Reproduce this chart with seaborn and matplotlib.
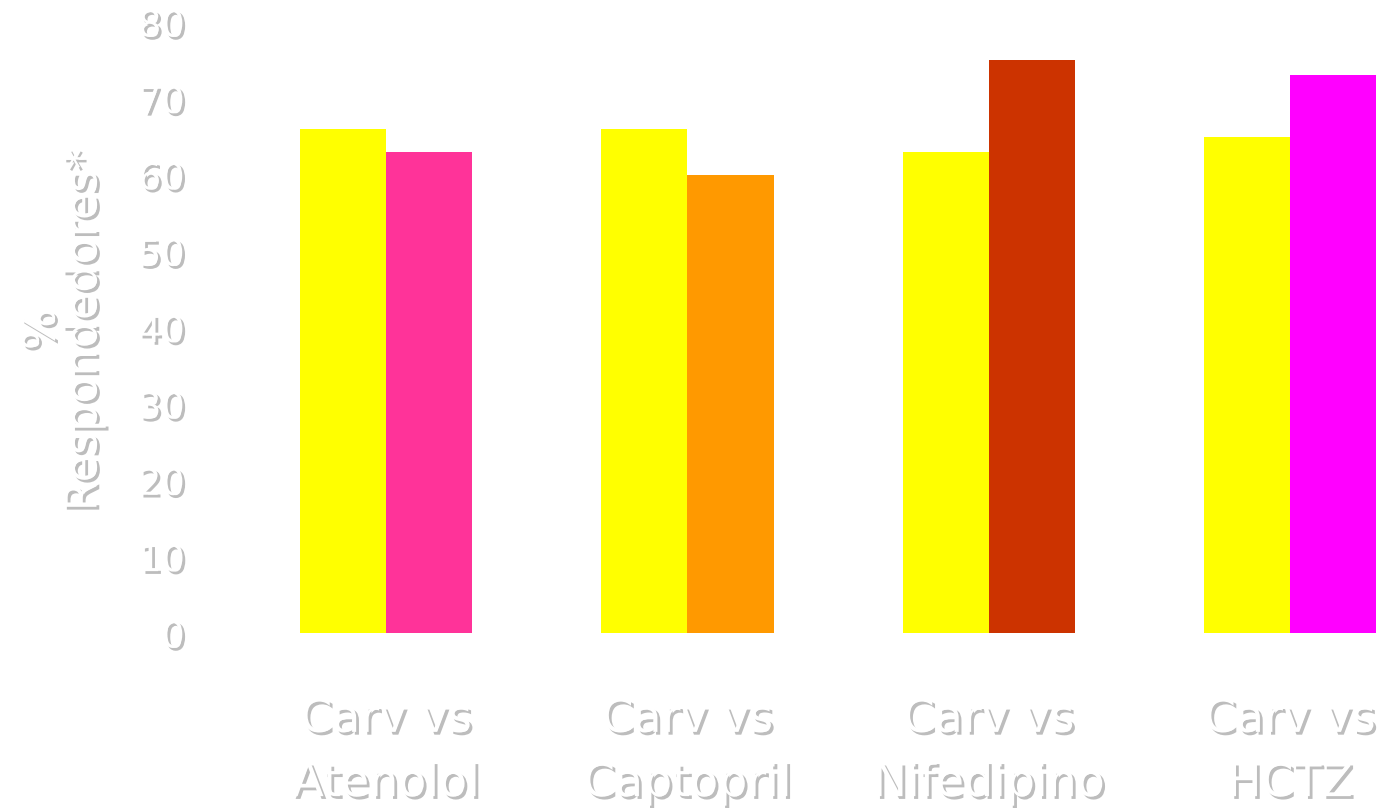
import matplotlib
matplotlib.use("Agg")
import matplotlib.pyplot as plt
import matplotlib.patheffects as pe
import seaborn as sns
import pandas as pd

categories = ["Carv vs\nAtenolol", "Carv vs\nCaptopril", "Carv vs\nNifedipino", "Carv vs\nHCTZ"]
carvedilol = [66, 66, 63, 65]
comparador = [63, 60, 75, 73]
carv_color = "#FFFF00"
comp_colors = ["#FF3399", "#FF9900", "#CC3300", "#FF00FF"]
yticks = [0, 10, 20, 30, 40, 50, 60, 70, 80]
ylabel = "%\nRespondedores*"

df = pd.DataFrame({
    "cat": categories * 2,
    "val": carvedilol + comparador,
    "serie": ["Carvedilol"] * 4 + ["Comparador"] * 4,
})

sns.set_theme(style="white")
plt.rcParams["font.family"] = ["DejaVu Sans"]

W, H = 1378, 808
fig = plt.figure(figsize=(W / 100, H / 100), dpi=100)
left, right, bottom, top = 200, 1377, 633, 22
ax = fig.add_axes([left / W, (H - bottom) / H, (right - left) / W, (bottom - top) / H])

sns.barplot(data=df, x="cat", y="val", hue="serie", order=categories,
            palette=[carv_color, comp_colors[0]], width=0.572, linewidth=0,
            saturation=1, legend=False, ax=ax)
for bar, c in zip(ax.containers[1], comp_colors):
    bar.set_facecolor(c)

ax.set_xlim(-0.618, 3.289)
ax.set_ylim(0, 80)
ax.set_yticks(yticks)
for s in ax.spines.values():
    s.set_visible(False)
ax.set_xlabel("")
ax.set_ylabel("")

shadow = [pe.withSimplePatchShadow(offset=(2, -2), shadow_rgbFace="#bdbdbd", alpha=1.0)]

ax.tick_params(axis="y", length=0, pad=11, labelsize=26.5, labelcolor="white")
ax.tick_params(axis="x", length=0, pad=46, labelsize=33, labelcolor="white")
for lab in ax.get_yticklabels():
    lab.set_path_effects(shadow)
for lab in ax.get_xticklabels():
    lab.set_path_effects(shadow)
    lab.set_linespacing(1.55)

fig.text(63 / W, 1 - 329 / H, ylabel, rotation=90, ha="center", va="center",
         fontsize=32, color="white", linespacing=0.97, path_effects=shadow)

fig.savefig("out.png", dpi=100, facecolor="white")
